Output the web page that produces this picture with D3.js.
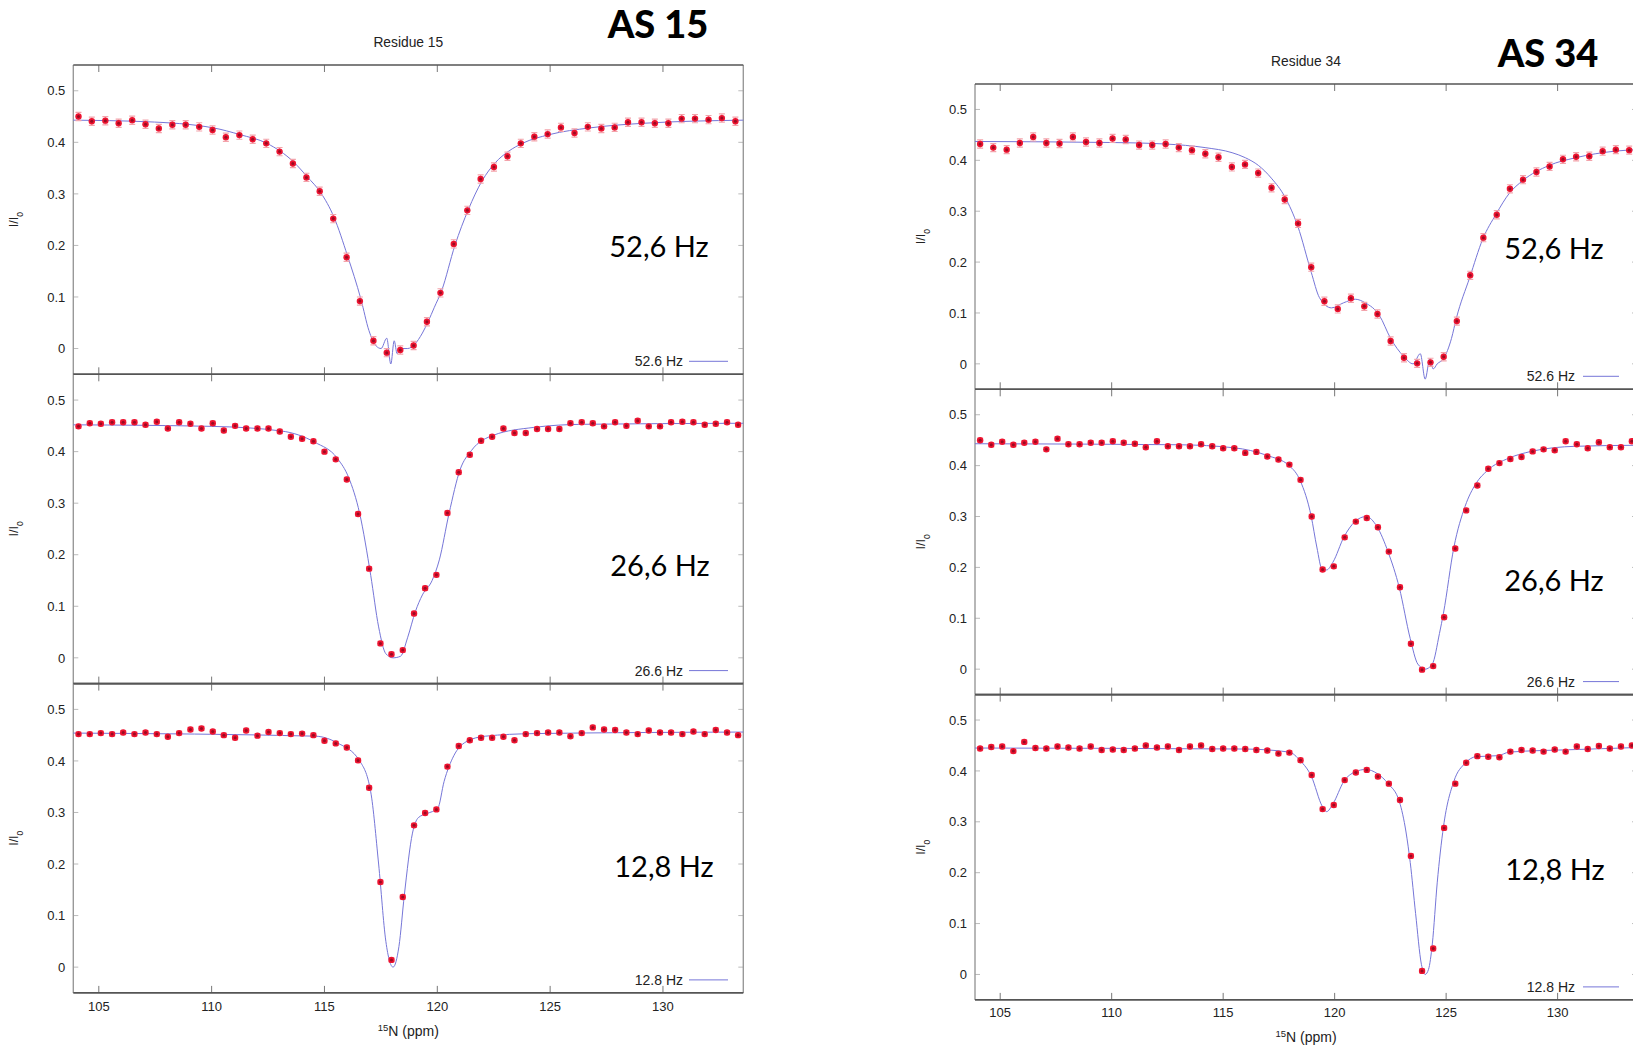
<!DOCTYPE html>
<html>
<head>
<meta charset="UTF-8">
<title>CEST profiles, residues 15 and 34</title>
<script src="https://d3js.org/d3.v7.min.js"></script>
<style>
  body { margin: 0; background: #fff; }
  svg { display: block; }
</style>
</head>
<body>
<script>
// 15N offsets (ppm) of the sampled points
var offsetsTop = [104.10,104.69,105.29,105.88,106.48,107.07,107.66,108.26,108.85,109.45,
  110.04,110.63,111.23,111.82,112.42,113.01,113.60,114.20,114.79,115.39,
  115.98,116.57,117.17,117.76,118.36,118.95,119.54,120.14,120.73,121.33,
  121.92,122.51,123.11,123.70,124.30,124.89,125.48,126.08,126.67,127.27,
  127.86,128.45,129.05,129.64,130.24,130.83,131.42,132.02,132.61,133.21];
var offsetsLow = [104.10,104.60,105.09,105.59,106.08,106.58,107.07,107.57,108.06,108.56,
  109.06,109.55,110.05,110.54,111.04,111.53,112.03,112.52,113.02,113.51,
  114.01,114.51,115.00,115.50,115.99,116.49,116.98,117.48,117.97,118.47,
  118.97,119.46,119.96,120.45,120.95,121.44,121.94,122.43,122.93,123.42,
  123.92,124.42,124.91,125.41,125.90,126.40,126.89,127.39,127.88,128.38,
  128.88,129.37,129.87,130.36,130.86,131.35,131.85,132.34,132.84,133.33];

// I/I0, residue 15
var res15_526 = [0.450,0.441,0.442,0.437,0.443,0.435,0.427,0.434,0.434,0.430,
  0.424,0.410,0.414,0.406,0.398,0.382,0.359,0.332,0.305,0.252,
  0.177,0.092,0.015,-0.008,-0.003,0.006,0.052,0.108,0.203,0.268,
  0.329,0.352,0.373,0.398,0.411,0.416,0.429,0.418,0.430,0.427,
  0.429,0.439,0.439,0.437,0.437,0.446,0.446,0.444,0.447,0.441];
var res15_266 = [0.449,0.455,0.454,0.457,0.457,0.457,0.452,0.458,0.445,0.457,
  0.454,0.445,0.455,0.441,0.450,0.445,0.445,0.445,0.439,0.429,
  0.425,0.420,0.400,0.385,0.346,0.279,0.173,0.028,0.007,0.015,
  0.086,0.135,0.161,0.281,0.360,0.394,0.421,0.429,0.445,0.436,
  0.436,0.444,0.444,0.444,0.455,0.457,0.455,0.449,0.457,0.450,
  0.460,0.449,0.449,0.457,0.458,0.457,0.452,0.454,0.457,0.452];
var res15_128 = [0.452,0.452,0.454,0.452,0.455,0.452,0.455,0.452,0.447,0.454,
  0.461,0.463,0.457,0.450,0.445,0.459,0.449,0.456,0.454,0.452,
  0.453,0.450,0.439,0.434,0.426,0.401,0.348,0.165,0.014,0.136,
  0.275,0.299,0.306,0.389,0.429,0.440,0.445,0.445,0.447,0.440,
  0.452,0.454,0.455,0.455,0.448,0.454,0.465,0.461,0.460,0.455,
  0.452,0.459,0.455,0.455,0.452,0.457,0.452,0.460,0.455,0.450];

// I/I0, residue 34
var res34_526 = [0.432,0.425,0.421,0.434,0.446,0.434,0.433,0.446,0.436,0.434,
  0.443,0.441,0.430,0.430,0.432,0.425,0.420,0.413,0.406,0.387,
  0.392,0.375,0.346,0.323,0.276,0.190,0.123,0.108,0.129,0.113,
  0.098,0.045,0.012,0.001,0.003,0.014,0.084,0.174,0.248,0.293,
  0.344,0.362,0.377,0.388,0.402,0.407,0.408,0.418,0.421,0.420];
var res34_266 = [0.450,0.441,0.447,0.441,0.445,0.447,0.432,0.453,0.442,0.442,
  0.445,0.445,0.448,0.445,0.443,0.436,0.448,0.438,0.438,0.438,
  0.442,0.438,0.434,0.434,0.425,0.427,0.418,0.412,0.402,0.372,
  0.300,0.196,0.202,0.259,0.290,0.297,0.279,0.231,0.161,0.050,
  -0.001,0.006,0.102,0.237,0.312,0.361,0.394,0.405,0.413,0.417,
  0.428,0.432,0.430,0.448,0.442,0.434,0.446,0.436,0.436,0.448];
var res34_128 = [0.444,0.447,0.448,0.439,0.457,0.445,0.444,0.448,0.446,0.444,
  0.448,0.441,0.442,0.441,0.444,0.450,0.446,0.448,0.441,0.448,
  0.450,0.443,0.444,0.444,0.443,0.441,0.440,0.434,0.436,0.421,
  0.392,0.325,0.333,0.382,0.397,0.402,0.389,0.375,0.343,0.233,
  0.007,0.051,0.288,0.375,0.416,0.429,0.428,0.427,0.438,0.441,
  0.440,0.438,0.442,0.438,0.448,0.443,0.449,0.444,0.448,0.450];

// fitted curves, [ppm, I/I0]
var fit15_526 = [[103.87,0.443],[107.1,0.440],[110.08,0.428],[111.25,0.415],[112.45,0.398],
  [113.63,0.362],[114.24,0.333],[114.84,0.302],[115.42,0.255],[116.02,0.180],[116.62,0.095],
  [116.97,0.035],[117.29,0.005],[117.51,0.0],[117.76,0.02],[117.94,-0.03],[118.09,0.015],
  [118.22,-0.01],[118.37,0.0],[118.69,0.0],[118.99,0.008],[119.34,0.03],[119.59,0.052],
  [119.87,0.08],[120.19,0.112],[120.78,0.200],[121.38,0.270],[121.98,0.325],[122.56,0.360],
  [123.17,0.383],[123.77,0.398],[124.97,0.415],[126.76,0.428],[129.15,0.437],[133.56,0.443]];
var fit15_266 = [[103.87,0.452],[110,0.449],[113.1,0.440],[114.58,0.418],[115.57,0.387],
  [116.07,0.350],[116.56,0.280],[117.05,0.160],[117.4,0.060],[117.72,0.008],[118.04,0.0],
  [118.37,0.003],[118.69,0.040],[119.03,0.090],[119.34,0.122],[119.77,0.150],[120.09,0.190],
  [120.52,0.280],[121.01,0.365],[121.51,0.402],[122.5,0.432],[124.28,0.447],[126.43,0.453],
  [133.56,0.455]];
var fit15_128 = [[103.87,0.454],[114.6,0.448],[115.57,0.435],[116.56,0.400],[117.05,0.340],
  [117.4,0.200],[117.72,0.050],[118.04,0.0],[118.3,0.040],[118.54,0.140],[118.9,0.260],
  [119.16,0.290],[119.55,0.298],[120.02,0.308],[120.3,0.360],[120.73,0.410],[121.27,0.437],
  [122.13,0.448],[124.28,0.453],[133.56,0.456]];
var fit34_526 = [[103.87,0.437],[110,0.435],[112.43,0.432],[114.19,0.425],[115.4,0.415],
  [116.0,0.405],[116.58,0.390],[117.16,0.365],[117.77,0.328],[118.35,0.270],[118.95,0.180],
  [119.32,0.130],[119.86,0.110],[120.4,0.120],[120.93,0.127],[121.37,0.120],[122.01,0.095],
  [122.51,0.050],[123.09,0.015],[123.52,0.0],[123.84,0.02],[124.06,-0.03],[124.27,0.01],
  [124.42,-0.01],[124.6,0.0],[124.88,0.01],[125.24,0.05],[125.46,0.09],[126.06,0.170],
  [126.64,0.245],[127.25,0.295],[127.83,0.335],[128.43,0.360],[129.62,0.390],[130.8,0.405],
  [132.57,0.418],[133.56,0.421]];
var fit34_266 = [[103.87,0.443],[113,0.441],[115.5,0.435],[116.97,0.420],[117.96,0.400],
  [118.46,0.370],[118.95,0.300],[119.2,0.240],[119.45,0.195],[119.64,0.195],[119.92,0.210],
  [120.42,0.260],[120.91,0.290],[121.41,0.300],[121.9,0.280],[122.4,0.230],[122.9,0.160],
  [123.39,0.060],[123.73,0.010],[124.06,0.0],[124.38,0.010],[124.7,0.070],[124.88,0.110],
  [125.35,0.240],[125.85,0.320],[126.34,0.365],[126.84,0.390],[127.83,0.415],[128.82,0.428],
  [130.8,0.438],[133.56,0.440]];
var fit34_128 = [[103.87,0.445],[116,0.443],[117.96,0.437],[118.46,0.420],[118.95,0.390],
  [119.45,0.330],[119.64,0.320],[119.92,0.335],[120.42,0.380],[120.91,0.398],[121.41,0.403],
  [121.9,0.395],[122.4,0.375],[122.9,0.340],[123.2,0.280],[123.39,0.220],[123.63,0.120],
  [123.89,0.020],[124.06,0.0],[124.21,0.010],[124.38,0.060],[124.6,0.180],[124.88,0.290],
  [125.35,0.380],[125.85,0.415],[126.34,0.428],[127.33,0.430],[127.83,0.437],[130.8,0.442],
  [133.56,0.446]];

var errBars = [0.008, 0.004, 0.004];       // error bar half heights per B1 field
var fieldText = ["52,6 Hz", "26,6 Hz", "12,8 Hz"];
var legendText = ["52.6 Hz", "26.6 Hz", "12.8 Hz"];
var xTicks = [105, 110, 115, 120, 125, 130];
var yTicks = [0, 0.1, 0.2, 0.3, 0.4, 0.5];
var xDomain = [103.87, 133.56];
var yDomain = [-0.05, 0.55];

var small = "'Liberation Sans', Arial, sans-serif";
var big = "Lato, 'Open Sans', sans-serif";
var fitColor = "#7676d8";

var svg = d3.select("body").append("svg")
  .attr("width", 1633).attr("height", 1045)
  .style("background", "#fff");

// layout of the two stacks
var blocks = [
  { title: "Residue 15", tag: "AS 15", x0: 73.3, x1: 743.3, top: 65, h: 309.3,
    series: [res15_526, res15_266, res15_128], fits: [fit15_526, fit15_266, fit15_128],
    titleY: 47, tagX: 658, tagY: 38, fieldX: [659, 660, 664], fieldY: [257, 576, 877],
    ylabX: 18, legEnd: 683, legLine: [689, 728], tickLabY: 18.5, xlabY: 1036 },
  { title: "Residue 34", tag: "AS 34", x0: 975, x1: 1637, top: 84, h: 305.3,
    series: [res34_526, res34_266, res34_128], fits: [fit34_526, fit34_266, fit34_128],
    titleY: 66, tagX: 1548, tagY: 67, fieldX: [1554, 1554, 1555], fieldY: [259, 591, 880],
    ylabX: 925, legEnd: 1575, legLine: [1583, 1619], tickLabY: 17.5, xlabY: 1042 }
];

blocks.forEach(function(b) {
  var x = d3.scaleLinear().domain(xDomain).range([b.x0, b.x1]);
  var offs = [offsetsTop, offsetsLow, offsetsLow];

  // headings
  svg.append("text")
    .attr("x", (b.x0 + b.x1) / 2).attr("y", b.titleY)
    .attr("text-anchor", "middle")
    .style("font-family", small).style("font-size", "13.8px").style("fill", "#222")
    .text(b.title);
  svg.append("text")
    .attr("x", b.tagX).attr("y", b.tagY)
    .attr("text-anchor", "middle")
    .style("font-family", big).style("font-size", "38px").style("font-weight", "900")
    .style("fill", "#000")
    .text(b.tag);

  for (var k = 0; k < 3; k++) {
    var top = b.top + k * b.h, bot = top + b.h;
    var y = d3.scaleLinear().domain(yDomain).range([bot, top]);
    var g = svg.append("g");

    // inward ticks on all four sides
    g.selectAll(".xt").data(xTicks).enter().append("path")
      .attr("d", function(d) {
        return "M" + x(d) + "," + bot + "v-7M" + x(d) + "," + top + "v7";
      })
      .attr("stroke", "#777").attr("stroke-width", 1);
    g.selectAll(".yt").data(yTicks).enter().append("path")
      .attr("d", function(d) {
        return "M" + b.x0 + "," + y(d) + "h5M" + b.x1 + "," + y(d) + "h-5";
      })
      .attr("stroke", "#bbb").attr("stroke-width", 1);

    // frame
    g.append("path").attr("d", "M" + b.x0 + "," + top + "V" + bot + "M" + b.x1 + "," + top + "V" + bot)
      .attr("stroke", "#999").attr("stroke-width", 1.4);
    g.append("path").attr("d", "M" + b.x0 + "," + top + "H" + b.x1 + "M" + b.x0 + "," + bot + "H" + b.x1)
      .attr("stroke", "#555").attr("stroke-width", 1.6);

    // y tick labels
    g.selectAll(".yl").data(yTicks).enter().append("text")
      .attr("x", b.x0 - 8).attr("y", function(d) { return y(d); })
      .attr("dy", "0.36em").attr("text-anchor", "end")
      .style("font-family", small).style("font-size", "13px").style("fill", "#222")
      .text(function(d) { return d === 0 ? "0" : d3.format(".1f")(d); });

    // y axis label I/I0
    var yl = g.append("text")
      .attr("transform", "translate(" + b.ylabX + "," + ((top + bot) / 2) + ") rotate(-90)")
      .attr("text-anchor", "middle")
      .style("font-family", small).style("font-size", "12.5px").style("fill", "#222");
    yl.append("tspan").text("I/I");
    yl.append("tspan").attr("baseline-shift", "sub").style("font-size", "8.5px").text("0");

    // fit
    var line = d3.line()
      .x(function(d) { return x(d[0]); })
      .y(function(d) { return y(d[1]); })
      .curve(d3.curveMonotoneX);
    g.append("path").attr("d", line(b.fits[k]))
      .attr("fill", "none").attr("stroke", fitColor).attr("stroke-width", 1);

    // points with error bars
    var pts = b.series[k].map(function(v, i) { return [offs[k][i], v]; });
    var e = errBars[k];
    g.selectAll(".eb").data(pts).enter().append("path")
      .attr("d", function(d) {
        var px = x(d[0]), y1 = y(d[1] + e), y2 = y(d[1] - e);
        return "M" + px + "," + y1 + "V" + y2 + "M" + (px - 3) + "," + y1 + "h6M" + (px - 3) + "," + y2 + "h6";
      })
      .attr("stroke", "#f3a3ab").attr("stroke-width", 1.2).attr("fill", "none");
    g.selectAll(".pt").data(pts).enter().append("circle")
      .attr("cx", function(d) { return x(d[0]); })
      .attr("cy", function(d) { return y(d[1]); })
      .attr("r", 3.2).attr("fill", "#ee1330");
    g.selectAll(".pc").data(pts).enter().append("circle")
      .attr("cx", function(d) { return x(d[0]); })
      .attr("cy", function(d) { return y(d[1]); })
      .attr("r", 1.5).attr("fill", "#9a0a22");

    // legend
    g.append("text")
      .attr("x", b.legEnd).attr("y", bot - 13).attr("dy", "0.35em")
      .attr("text-anchor", "end")
      .style("font-family", small).style("font-size", "14px").style("fill", "#222")
      .text(legendText[k]);
    g.append("line")
      .attr("x1", b.legLine[0]).attr("x2", b.legLine[1])
      .attr("y1", bot - 13).attr("y2", bot - 13)
      .attr("stroke", fitColor).attr("stroke-width", 1);

    // field label
    g.append("text")
      .attr("x", b.fieldX[k]).attr("y", b.fieldY[k])
      .attr("text-anchor", "middle")
      .style("font-family", big).style("font-size", "29px").style("fill", "#000")
      .text(fieldText[k]);

    // x tick labels on the bottom panel
    if (k === 2) {
      g.selectAll(".xl").data(xTicks).enter().append("text")
        .attr("x", function(d) { return x(d); }).attr("y", bot + b.tickLabY)
        .attr("text-anchor", "middle")
        .style("font-family", small).style("font-size", "13px").style("fill", "#222")
        .text(function(d) { return d; });
      var xl = g.append("text")
        .attr("x", (b.x0 + b.x1) / 2).attr("y", b.xlabY)
        .attr("text-anchor", "middle")
        .style("font-family", small).style("font-size", "14px").style("fill", "#222");
      xl.append("tspan").attr("baseline-shift", "super").style("font-size", "9.5px").text("15");
      xl.append("tspan").text("N (ppm)");
    }
  }
});
</script>
</body>
</html>
